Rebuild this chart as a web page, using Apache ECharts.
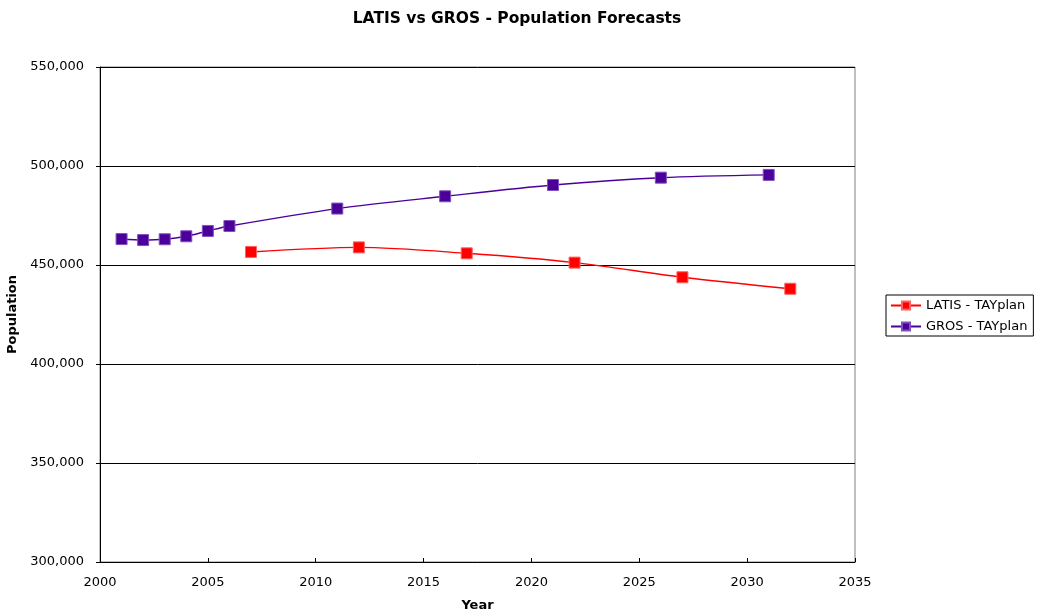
<!DOCTYPE html>
<html><head><meta charset="utf-8">
<script src="https://cdn.jsdelivr.net/npm/echarts@6/dist/echarts.min.js"></script>
<style>html,body{margin:0;padding:0;background:#fff}#c{width:1040px;height:615px}</style>
</head><body><div id="c"></div>
<script>
var latisYears = [2007, 2012, 2017, 2022, 2027, 2032];
var latisValues = [456600, 458900, 455900, 451200, 443800, 438000];
var grosYears = [2001, 2002, 2003, 2004, 2005, 2006, 2011, 2016, 2021, 2026, 2031];
var grosValues = [463100, 462600, 463000, 464500, 467200, 469700, 478500, 484700, 490400, 494100, 495500];
var seriesNames = ['LATIS - TAYplan', 'GROS - TAYplan'];

function pairs(xs, ys) { return xs.map(function (x, i) { return [x, ys[i]]; }); }
var font = 'DejaVu Sans';
var chart = echarts.init(document.getElementById('c'));
chart.setOption({
  animation: false,
  backgroundColor: '#fff',
  title: {
    text: 'LATIS vs GROS - Population Forecasts', left: 512, top: 6, textAlign: 'center',
    textStyle: { fontFamily: font, fontSize: 15.5, fontWeight: 'bold', color: '#000' }
  },
  grid: { left: 100, right: 185, top: 67, bottom: 53, outerBoundsMode: 'none', containLabel: false,
    show: true, borderColor: '#808080', borderWidth: 1, backgroundColor: 'transparent' },
  legend: {
    orient: 'vertical', left: 886, top: 295, padding: [4, 6, 3, 4],
    borderColor: '#000', borderWidth: 1, itemGap: 8, itemWidth: 30, itemHeight: 10,
    textStyle: { fontFamily: font, fontSize: 13, color: '#000' },
    data: seriesNames
  },
  xAxis: {
    type: 'value', min: 2000, max: 2035, interval: 5,
    name: 'Year', nameLocation: 'middle', nameGap: 37,
    nameTextStyle: { fontFamily: font, fontSize: 13, fontWeight: 'bold', color: '#000' },
    axisLine: { lineStyle: { color: '#000' } },
    axisTick: { inside: true, length: 4, lineStyle: { color: '#000' } },
    axisLabel: { fontFamily: font, fontSize: 13, color: '#000', margin: 14,
      formatter: function (v) { return String(v); } },
    splitLine: { show: false }
  },
  yAxis: {
    type: 'value', min: 300000, max: 550000, interval: 50000,
    name: 'Population', nameLocation: 'middle', nameGap: 66,
    nameTextStyle: { fontFamily: font, fontSize: 13, fontWeight: 'bold', color: '#000' },
    axisLine: { show: true, lineStyle: { color: '#000' } },
    axisTick: { show: true, length: 4, lineStyle: { color: '#000' } },
    axisLabel: { fontFamily: font, fontSize: 13, color: '#000', margin: 16,
      formatter: function (v) { return v.toLocaleString('en-US'); } },
    splitLine: { show: true, lineStyle: { color: '#000', width: 1 } }
  },
  series: [
    { name: seriesNames[0], type: 'line', smooth: 0.3, data: pairs(latisYears, latisValues),
      symbol: 'rect', symbolSize: 11, color: '#FF0000',
      lineStyle: { color: '#FF0000', width: 1.4 },
      itemStyle: { color: '#FF0000', borderColor: '#FF6060', borderWidth: 1 } },
    { name: seriesNames[1], type: 'line', smooth: 0.3, data: pairs(grosYears, grosValues),
      symbol: 'rect', symbolSize: 11, color: '#4B0099',
      lineStyle: { color: '#4B0099', width: 1.4 },
      itemStyle: { color: '#4B0099', borderColor: '#8050C0', borderWidth: 1 } }
  ]
});
</script></body></html>
